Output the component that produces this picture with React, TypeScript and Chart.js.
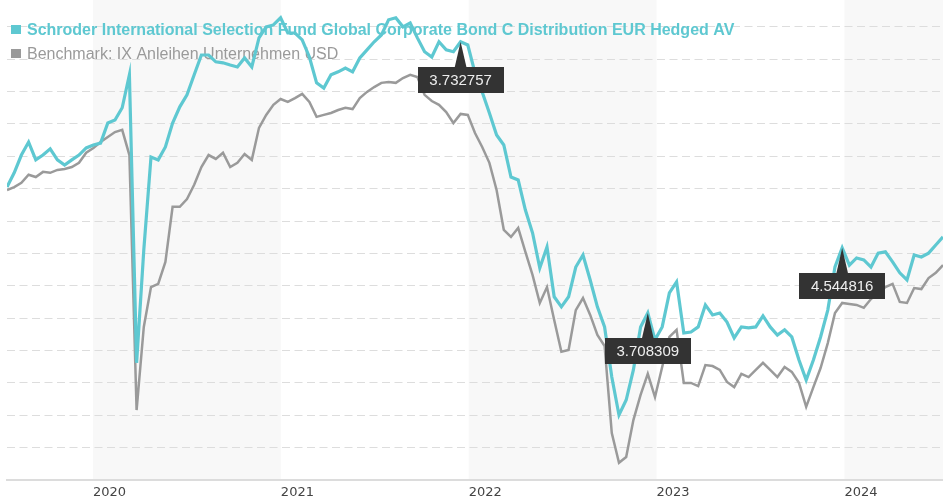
import React, { useEffect, useRef } from "react";
import { Chart, registerables } from "chart.js";

Chart.register(...registerables);

const fundName =
  "Schroder International Selection Fund Global Corporate Bond C Distribution EUR Hedged AV";
const benchName = "Benchmark: IX Anleihen Unternehmen USD";

// sampling: one value every 14 days starting mid 2019 (x in decimal years)
const startYear = 2019.542;
const stepYears = 14 / 365.25;

const fund = [
  9.05, 9.49, 10.04, 10.44, 9.89, 10.04, 10.23, 9.89, 9.73, 9.89,
  10.04, 10.26, 10.35, 10.41, 11.03, 11.12, 11.5, 12.52, 3.62, 7.11,
  9.98, 9.89, 10.29, 11.03, 11.53, 11.9, 12.52, 13.13, 13.13, 12.92,
  12.89, 12.82, 12.76, 13.04, 12.76, 13.66, 14.0, 14.06, 14.28, 13.81,
  13.81, 13.6, 13.07, 12.27, 12.11, 12.52, 12.61, 12.73, 12.61, 13.04,
  13.29, 13.54, 13.75, 14.22, 14.28, 14.0, 14.12, 13.66, 13.23, 13.07,
  13.54, 13.29, 13.23, 13.54, 13.44, 12.58, 11.99, 11.34, 10.66, 10.35,
  9.36, 9.27, 8.34, 7.63, 6.55, 7.2, 5.66, 5.35, 5.66, 6.58,
  6.95, 6.18, 5.35, 4.73, 3.18, 2.01, 2.47, 3.4, 4.73, 5.16,
  4.33, 4.73, 5.78, 6.12, 4.54, 4.57, 4.73, 5.41, 5.1, 5.16,
  4.88, 4.39, 4.73, 4.7, 4.73, 5.07, 4.73, 4.48, 4.64, 4.42,
  3.71, 3.09, 3.71, 4.42, 5.25, 6.58, 7.17, 6.64, 6.86, 6.8,
  6.58, 7.01, 7.05, 6.74, 6.4, 6.18, 6.95, 6.89, 7.01, 7.26,
  7.51,
];

const bench = [
  8.96, 9.05, 9.18, 9.43, 9.36, 9.52, 9.49, 9.58, 9.61, 9.67,
  9.8, 10.11, 10.26, 10.44, 10.6, 10.75, 10.82, 10.04, 2.16, 4.73,
  5.96, 6.06, 6.74, 8.44, 8.44, 8.68, 9.12, 9.67, 10.04, 9.92,
  10.11, 9.67, 9.8, 10.07, 9.89, 10.88, 11.28, 11.59, 11.77, 11.68,
  11.8, 11.93, 11.68, 11.22, 11.28, 11.34, 11.43, 11.5, 11.46, 11.8,
  11.99, 12.14, 12.27, 12.3, 12.27, 12.42, 12.52, 12.45, 11.9, 11.71,
  11.59, 11.37, 11.03, 11.31, 11.28, 10.72, 10.29, 9.8, 8.96, 7.73,
  7.51, 7.79, 7.05, 6.33, 5.47, 5.96, 4.94, 3.96, 4.02, 5.25,
  5.62, 5.1, 4.48, 4.14, 1.45, 0.53, 0.71, 1.85, 2.63, 3.28,
  2.56, 3.49, 4.42, 4.64, 3.0, 3.0, 2.9, 3.55, 3.52, 3.4,
  3.03, 2.87, 3.28, 3.18, 3.4, 3.62, 3.4, 3.18, 3.49, 3.34,
  3.0, 2.26, 2.87, 3.46, 4.23, 5.16, 5.47, 5.44, 5.41, 5.32,
  5.59, 5.81, 5.96, 6.06, 5.5, 5.47, 5.93, 5.9, 6.24, 6.4,
  6.64,
];

const yearTicks = [2020, 2021, 2022, 2023, 2024];
const shadedYears = [2020, 2022, 2024];
const annotationIdx = [63, 89, 116];
const annotationLabels = ["3.732757", "3.708309", "4.544816"];

const xMin = 2019.542;
const xMax = 2024.525;
const yMin = 0;
const yMax = 14.83;

const TEAL = "#5ec8d1";
const GREY = "#9a9a9a";

const xs = fund.map((_, i) => startYear + i * stepYears);

const bandsPlugin = {
  id: "bands",
  beforeDraw(chart: any) {
    const { ctx, chartArea, scales } = chart;
    ctx.save();
    ctx.fillStyle = "#f8f8f8";
    shadedYears.forEach((yr) => {
      const x1 = Math.max(chartArea.left, scales.x.getPixelForValue(yr));
      const x2 = Math.min(chartArea.right, scales.x.getPixelForValue(yr + 1));
      if (x2 > x1) ctx.fillRect(x1, chartArea.top, x2 - x1, chartArea.bottom - chartArea.top);
    });
    ctx.restore();
  },
};

const legendPlugin = {
  id: "customLegend",
  beforeDatasetsDraw(chart: any) {
    const { ctx } = chart;
    ctx.save();
    ctx.textBaseline = "alphabetic";
    ctx.textAlign = "left";
    ctx.fillStyle = TEAL;
    ctx.fillRect(11, 25, 10, 9);
    ctx.font = 'bold 16px "Liberation Sans", Arial, sans-serif';
    ctx.fillText(fundName, 27, 35);
    ctx.fillStyle = GREY;
    ctx.fillRect(11, 49, 10, 9);
    ctx.font = '16px "Liberation Sans", Arial, sans-serif';
    ctx.fillText(benchName, 27, 59);
    ctx.restore();
  },
};

const annotationPlugin = {
  id: "valueBoxes",
  afterDatasetsDraw(chart: any) {
    const { ctx, scales } = chart;
    ctx.save();
    annotationIdx.forEach((idx, k) => {
      const px = scales.x.getPixelForValue(xs[idx]);
      const py = scales.y.getPixelForValue(fund[idx]);
      const w = 86;
      const h = 26;
      const top = py + 25;
      ctx.fillStyle = "#333333";
      ctx.beginPath();
      ctx.moveTo(px, py);
      ctx.lineTo(px - 6, top + 1);
      ctx.lineTo(px + 6, top + 1);
      ctx.closePath();
      ctx.fill();
      ctx.fillRect(Math.round(px - w / 2), Math.round(top), w, h);
      ctx.fillStyle = "#eeeeee";
      ctx.font = '15px "Liberation Sans", Arial, sans-serif';
      ctx.textAlign = "center";
      ctx.textBaseline = "middle";
      ctx.fillText(annotationLabels[k], px, top + h / 2 + 1);
    });
    ctx.restore();
  },
};

export default function App() {
  const ref = useRef<HTMLCanvasElement | null>(null);

  useEffect(() => {
    document.body.style.margin = "0";
    if (!ref.current) return;
    const chart = new Chart(ref.current, {
      type: "line",
      data: {
        datasets: [
          {
            label: fundName,
            data: fund.map((v, i) => ({ x: xs[i], y: v })),
            borderColor: TEAL,
            borderWidth: 3.2,
            pointRadius: 0,
            tension: 0,
          },
          {
            label: benchName,
            data: bench.map((v, i) => ({ x: xs[i], y: v })),
            borderColor: GREY,
            borderWidth: 2.5,
            pointRadius: 0,
            tension: 0,
          },
        ],
      },
      options: {
        animation: false,
        responsive: false,
        layout: { padding: { left: 7, right: 0, top: 0, bottom: 0 } },
        plugins: { legend: { display: false }, tooltip: { enabled: false } },
        scales: {
          x: {
            type: "linear",
            min: xMin,
            max: xMax,
            afterBuildTicks: (s: any) => {
              s.ticks = yearTicks.map((v) => ({ value: v }));
            },
            afterFit: (s: any) => {
              s.height = 20;
            },
            grid: { display: false, drawTicks: false },
            border: { display: true, color: "#dcdcdc", width: 2 },
            ticks: {
              align: "start",
              padding: 5,
              autoSkip: false,
              maxRotation: 0,
              color: "#444",
              font: { family: "DejaVu Sans", size: 13 },
              callback: (v: any) => String(v),
            },
          },
          y: {
            min: yMin,
            max: yMax,
            afterBuildTicks: (s: any) => {
              s.ticks = s.ticks.filter((t: any) => Number.isInteger(t.value));
            },
            afterFit: (s: any) => {
              s.width = 0;
            },
            ticks: { display: false, stepSize: 1 },
            grid: { color: "#dddddd", drawTicks: false, lineWidth: 1 },
            border: { display: false, dash: [8, 4.5] },
          },
        },
      },
      plugins: [bandsPlugin, legendPlugin, annotationPlugin],
    } as any);
    return () => chart.destroy();
  }, []);

  return (
    <div style={{ width: 943, height: 500 }}>
      <canvas ref={ref} width={943} height={500} style={{ display: "block" }} />
    </div>
  );
}
